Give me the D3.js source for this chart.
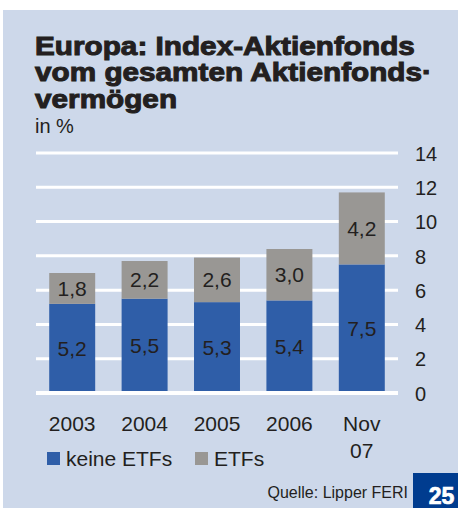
<!DOCTYPE html>
<html><head><meta charset="utf-8">
<script src="https://cdn.jsdelivr.net/npm/d3@7"></script>
<style>body{margin:0;background:#fff}svg{display:block}</style>
</head><body>
<script>
const categories = [["2003"],["2004"],["2005"],["2006"],["Nov","07"]];
const keineETFs = [5.2, 5.5, 5.3, 5.4, 7.5];
const ETFs = [1.8, 2.2, 2.6, 3.0, 4.2];
const tickValues = [0,2,4,6,8,10,12,14];
const seriesNames = ["keine ETFs","ETFs"];
const titleLines = ["Europa: Index-Aktienfonds","vom gesamten Aktienfonds·","vermögen"];

const W=458,H=508;
const colors=["#2f5ea8","#999794"];
const txt="#231f20";
const font="'Liberation Sans', Arial, Helvetica, sans-serif";
const svg=d3.select("body").append("svg").attr("width",W).attr("height",H);
svg.append("rect").attr("x",3).attr("y",10).attr("width",W-3).attr("height",H-10).attr("fill","#cdd8ea");

// title
const tg=svg.append("g");
const tl=tg.selectAll("text").data(titleLines).join("text")
  .attr("x",0).attr("y",(d,i)=>55+i*26.5)
  .attr("font-family",font).attr("font-weight","bold").attr("font-size",25.5)
  .attr("fill",txt).attr("stroke",txt).attr("stroke-width",1)
  .text(d=>d);
const len=tl.nodes()[0].getComputedTextLength();
const sx=380/len;
tg.attr("transform",`translate(35,0) scale(${sx},1)`);

svg.append("text").attr("x",35).attr("y",133).attr("font-family",font).attr("font-size",20).attr("fill",txt).text("in %");

const x=d3.scaleBand().domain(d3.range(categories.length)).range([36,398]).paddingInner(0.365).paddingOuter(0.1825);
const y=d3.scaleLinear().domain([0,14]).range([393,153]);

// grid
svg.append("g").selectAll("line").data(tickValues.filter(v=>v>0)).join("line")
  .attr("x1",36).attr("x2",398).attr("y1",d=>y(d)).attr("y2",d=>y(d))
  .attr("stroke","#fff").attr("stroke-width",3);

const stack=d3.stack().keys([0,1]).value((d,k)=>k===0?keineETFs[d]:ETFs[d])(d3.range(categories.length));
const vals=[keineETFs,ETFs];
stack.forEach((s,k)=>{
  svg.append("g").selectAll("rect").data(s).join("rect")
    .attr("x",(d,i)=>x(i)).attr("width",x.bandwidth())
    .attr("y",d=>y(d[1])).attr("height",d=>y(d[0])-y(d[1]))
    .attr("fill",colors[k]);
  svg.append("g").selectAll("text").data(s).join("text")
    .attr("x",(d,i)=>x(i)+x.bandwidth()/2).attr("y",d=>(y(d[0])+y(d[1]))/2+7.5)
    .attr("text-anchor","middle").attr("font-family",font).attr("font-size",21).attr("fill",txt)
    .text((d,i)=>vals[k][i].toFixed(1).replace(".",","));
});

// baseline
svg.append("line").attr("x1",36).attr("x2",398).attr("y1",393).attr("y2",393).attr("stroke","#fff").attr("stroke-width",4);

// y axis labels
const ya=svg.append("g").attr("transform","translate(415,0)").call(d3.axisRight(y).tickValues(tickValues).tickSize(0).tickPadding(0));
ya.select(".domain").remove();
ya.selectAll("text").attr("font-family",font).attr("font-size",20).attr("fill",txt).attr("text-anchor","start").attr("dy","0.36em");

// x labels
const xl=svg.append("g").selectAll("text").data(categories).join("text")
  .attr("x",(d,i)=>x(i)+x.bandwidth()/2).attr("y",431)
  .attr("text-anchor","middle").attr("font-family",font).attr("font-size",21).attr("fill",txt);
xl.selectAll("tspan").data(d=>d).join("tspan")
  .attr("x",function(){return this.parentNode.getAttribute("x");})
  .attr("dy",(d,i)=>i?27:0).text(d=>d);

// legend
const lx=[47,195];
seriesNames.forEach((n,k)=>{
  svg.append("rect").attr("x",lx[k]).attr("y",452).attr("width",13).attr("height",13).attr("fill",colors[k]);
  svg.append("text").attr("x",lx[k]+19).attr("y",465.5).attr("font-family",font).attr("font-size",21).attr("fill",txt).text(n);
});

svg.append("text").attr("x",408).attr("y",498).attr("text-anchor","end").attr("font-family",font).attr("font-size",16).attr("fill",txt).text("Quelle: Lipper FERI");
svg.append("rect").attr("x",413).attr("y",473).attr("width",45).attr("height",35).attr("fill","#003c8f");
svg.append("text").attr("x",441.5).attr("y",504).attr("text-anchor","middle").attr("font-family",font).attr("font-weight","bold").attr("font-size",23).attr("fill","#fff").attr("stroke","#fff").attr("stroke-width",0.7).text("25");
</script>
</body></html>
